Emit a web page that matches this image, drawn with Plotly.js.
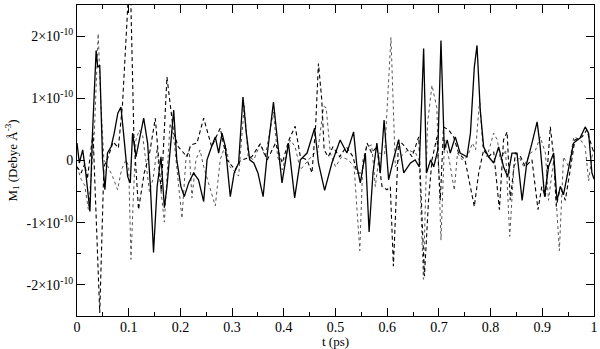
<!DOCTYPE html>
<html>
<head>
<meta charset="utf-8" />
<script src="https://cdn.plot.ly/plotly-3.0.1.min.js"></script>
<style>
  html, body { margin: 0; padding: 0; background: #fff; }
  #plot { width: 600px; height: 349px; }
</style>
</head>
<body>
<div id="plot"></div>
<script>
// values in units of 1e-10 Debye/Å^3
const tSolid = [0.000, 0.0045, 0.011, 0.017, 0.025, 0.030, 0.037, 0.040, 0.044, 0.0495, 0.054, 0.059, 0.066, 0.072, 0.079, 0.085, 0.090, 0.098, 0.103, 0.1075, 0.114, 0.1205, 0.129, 0.1366, 0.142, 0.148, 0.155, 0.1625, 0.169, 0.174, 0.180, 0.187, 0.193, 0.201, 0.2075, 0.216, 0.2255, 0.235, 0.245, 0.2515, 0.258, 0.2675, 0.274, 0.2805, 0.287, 0.2965, 0.304, 0.3126, 0.321, 0.3275, 0.334, 0.342, 0.350, 0.360, 0.368, 0.380, 0.388, 0.3965, 0.409, 0.421, 0.432, 0.445, 0.4596, 0.467, 0.479, 0.493, 0.509, 0.522, 0.535, 0.5415, 0.548, 0.5577, 0.565, 0.5725, 0.580, 0.5866, 0.594, 0.6027, 0.612, 0.622, 0.632, 0.645, 0.654, 0.662, 0.6705, 0.676, 0.684, 0.690, 0.698, 0.704, 0.7105, 0.716, 0.722, 0.7317, 0.741, 0.7543, 0.761, 0.7685, 0.7737, 0.780, 0.7865, 0.796, 0.806, 0.8155, 0.825, 0.833, 0.8414, 0.851, 0.861, 0.870, 0.880, 0.890, 0.896, 0.9045, 0.912, 0.922, 0.9284, 0.935, 0.941, 0.951, 0.9605, 0.973, 0.983, 0.9896, 0.996, 1.000];
const mSolid = [0.28, -0.04, 0.17, -0.2, -0.82, 0.44, 1.77, 1.5, 1.53, 0.01, -0.47, 0.12, 0.22, 0.44, 0.76, 0.86, 0.44, -0.26, -0.36, 0.44, 0.06, 0.33, 0.68, 0.28, -0.42, -1.48, -0.42, 0.06, -0.76, -0.42, 0.17, 0.81, 0.01, -0.42, -0.58, -0.36, -0.2, -0.31, -0.66, 0.01, 0.17, 0.38, 0.12, 0.44, 0.22, -0.58, -0.2, -0.04, 1.02, 0.44, 0.01, -0.04, -0.2, -0.58, 0.1, 0.94, 0.3, -0.36, 0.28, -0.6, 0.01, 0.12, 0.52, -0.04, -0.48, -0.04, 0.33, 0.12, 0.46, -0.1, -0.36, 0.12, -1.15, -0.2, 0.28, -0.2, 0.65, -0.31, 0.01, 0.33, -0.2, -0.04, 0.01, -0.1, 1.8, -0.2, 0.01, -0.1, 0.17, 1.93, 0.17, 0.33, 0.12, 0.38, 0.12, 0.06, 0.44, 1.5, 1.85, 0.81, 0.22, 0.06, -0.04, 0.22, -0.1, -0.26, 0.12, 0.12, -0.64, -0.04, 0.28, 0.62, 0.22, -0.58, -0.1, 0.12, -0.64, -0.42, -0.55, -0.1, 0.28, 0.36, 0.54, 0.44, -0.2, -0.3];

const tDashed = [0.000, 0.008, 0.015, 0.020, 0.031, 0.044, 0.052, 0.060, 0.070, 0.080, 0.088, 0.094, 0.099, 0.104, 0.110, 0.119, 0.130, 0.140, 0.1515, 0.163, 0.174, 0.187, 0.196, 0.2127, 0.220, 0.232, 0.245, 0.2605, 0.277, 0.290, 0.306, 0.316, 0.338, 0.3545, 0.368, 0.384, 0.397, 0.410, 0.422, 0.432, 0.445, 0.4545, 0.4615, 0.467, 0.4735, 0.478, 0.486, 0.495, 0.508, 0.521, 0.534, 0.5415, 0.551, 0.561, 0.570, 0.580, 0.590, 0.5996, 0.606, 0.612, 0.622, 0.635, 0.648, 0.661, 0.672, 0.680, 0.6866, 0.6963, 0.7027, 0.709, 0.719, 0.7285, 0.738, 0.7505, 0.761, 0.7685, 0.777, 0.7865, 0.796, 0.806, 0.817, 0.825, 0.832, 0.838, 0.848, 0.858, 0.867, 0.880, 0.8917, 0.899, 0.906, 0.9155, 0.922, 0.927, 0.935, 0.9445, 0.954, 0.963, 0.977, 0.986, 0.996, 1.000];
const mDashed = [-0.1, -0.2, -0.05, -0.3, 0.44, -2.45, -0.1, 0.05, 0.3, 0.2, 0.9, 2.0, 2.6, 2.6, 0.4, -0.79, -0.2, 0.1, 0.68, -0.5, 1.34, 0.44, 0.22, 0.06, 0.25, 0.28, 0.68, 0.22, 0.52, 0.01, -0.15, 0.0, 0.06, 0.27, 0.01, 0.28, -0.04, 0.33, 0.55, 0.06, 0.01, -0.2, 0.55, 1.56, 0.97, 0.17, 0.06, 0.22, 0.06, 0.22, 0.06, -0.2, -0.2, 0.28, 0.12, 0.22, -0.42, -0.47, -0.42, -1.7, 0.33, 0.22, 0.06, 0.38, -1.86, -0.64, 0.01, 0.38, -0.64, 0.54, 0.49, 0.38, 0.12, 0.01, -0.42, -0.74, -0.2, 0.17, 0.06, 0.14, -0.79, 0.33, 0.46, -0.64, 0.12, 0.06, -0.1, 0.01, -0.79, -0.42, -0.58, 0.54, 0.06, -0.74, -0.42, -0.64, -0.15, 0.33, 0.38, 0.49, 0.22, 0.12];

const tDotted = [0.000, 0.008, 0.015, 0.022, 0.028, 0.0335, 0.041, 0.046, 0.052, 0.060, 0.069, 0.0785, 0.086, 0.0947, 0.100, 0.1044, 0.109, 0.114, 0.1205, 0.127, 0.133, 0.140, 0.147, 0.155, 0.160, 0.169, 0.180, 0.188, 0.203, 0.211, 0.217, 0.2224, 0.230, 0.238, 0.245, 0.2675, 0.277, 0.287, 0.296, 0.3126, 0.3236, 0.331, 0.342, 0.3546, 0.364, 0.380, 0.388, 0.397, 0.4126, 0.422, 0.432, 0.447, 0.459, 0.465, 0.477, 0.482, 0.490, 0.500, 0.512, 0.525, 0.536, 0.547, 0.553, 0.561, 0.570, 0.577, 0.585, 0.595, 0.600, 0.6073, 0.6157, 0.626, 0.640, 0.655, 0.662, 0.670, 0.678, 0.6866, 0.696, 0.704, 0.711, 0.720, 0.7298, 0.736, 0.745, 0.755, 0.765, 0.771, 0.7788, 0.785, 0.793, 0.806, 0.813, 0.819, 0.829, 0.837, 0.845, 0.855, 0.864, 0.877, 0.887, 0.896, 0.906, 0.912, 0.922, 0.933, 0.941, 0.951, 0.961, 0.974, 0.983, 0.9896, 0.996, 1.000];
const mDotted = [-0.1, -0.3, -0.4, -0.79, -0.2, 0.44, 2.04, 0.94, 0.01, -0.1, -0.26, -0.47, -0.15, 0.01, -0.1, -1.59, -0.6, 0.33, 0.49, 0.4, 0.0, -0.5, -0.3, 0.2, -0.3, -0.99, 0.6, 0.3, -0.93, 0.06, 0.17, -0.6, 0.01, 0.17, -0.1, -0.73, 0.01, 0.25, -0.1, -0.25, 0.88, 0.06, 0.01, 0.27, 0.06, 0.78, 0.06, -0.15, 0.33, 0.22, -0.15, 0.01, 0.12, 0.1, 0.87, 0.85, 0.12, -0.1, 0.06, 0.01, -0.1, -1.45, 0.01, 0.22, 0.25, -0.42, 0.12, 0.1, 0.9, 1.98, -0.1, 0.06, 0.17, 0.12, 0.0, -1.91, 0.6, 1.21, 0.85, -1.28, 0.33, 0.01, -0.48, 0.12, 0.01, 0.06, 0.28, 0.17, 0.98, 0.22, 0.06, 0.44, 0.33, 0.01, 0.17, -1.22, -0.1, 0.06, -0.1, 0.12, 0.17, 0.38, 0.12, -0.64, 0.01, -1.45, 0.06, -0.1, 0.38, 0.33, 0.22, -0.33, 0.06, 0.17];

const xTicks = [0, 0.1, 0.2, 0.3, 0.4, 0.5, 0.6, 0.7, 0.8, 0.9, 1];
const xTickText = ['0', '0.1', '0.2', '0.3', '0.4', '0.5', '0.6', '0.7', '0.8', '0.9', '1'];
const yTicks = [-2, -1, 0, 1, 2];
const yTickText = ['-2×10<sup>-10</sup>', '-1×10<sup>-10</sup>', '0', '1×10<sup>-10</sup>', '2×10<sup>-10</sup>'];

const serif = '"Liberation Serif"';

const traces = [
  { x: tDotted, y: mDotted, mode: 'lines', line: { color: '#555', width: 1, dash: 'dot' } },
  { x: tDashed, y: mDashed, mode: 'lines', line: { color: '#000', width: 1.1, dash: '4px,3px' } },
  { x: tSolid, y: mSolid, mode: 'lines', line: { color: '#000', width: 1.3 } }
];

const axisCommon = {
  showgrid: false,
  zeroline: false,
  showline: true,
  linecolor: '#000',
  linewidth: 1,
  mirror: 'allticks',
  ticks: 'inside',
  ticklen: 8,
  tickwidth: 1,
  tickcolor: '#000',
  tickmode: 'array',
  tickfont: { family: serif, size: 14, color: '#000' }
};

const layout = {
  width: 600,
  height: 349,
  margin: { l: 77, r: 6, t: 5, b: 33 },
  paper_bgcolor: '#fff',
  plot_bgcolor: '#fff',
  showlegend: false,
  font: { family: serif, color: '#000' },
  xaxis: Object.assign({}, axisCommon, {
    range: [0, 1],
    tickvals: xTicks,
    ticktext: xTickText,
    ticklabelstandoff: -2,
    minor: { dtick: 0.05, ticks: 'inside', ticklen: 4, tickcolor: '#000' },
    title: { text: 't (ps)', font: { family: serif, size: 13, color: '#000' }, standoff: 2 }
  }),
  yaxis: Object.assign({}, axisCommon, {
    range: [-2.5, 2.5],
    tickvals: yTicks,
    ticktext: yTickText,
    minor: { dtick: 0.5, ticks: 'inside', ticklen: 4, tickcolor: '#000' },
    title: { text: 'M<sub>1</sub> (Debye Å<sup>-3</sup>)', font: { family: serif, size: 13, color: '#000' }, standoff: 6 }
  })
};

Plotly.newPlot('plot', traces, layout, { staticPlot: true });
</script>
</body>
</html>
